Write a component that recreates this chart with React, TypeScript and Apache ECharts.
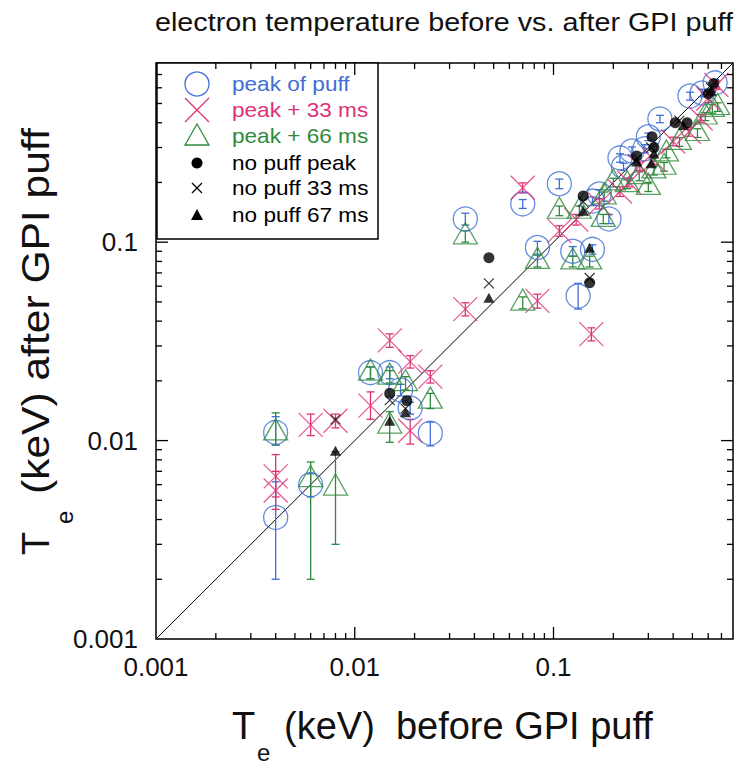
import React, { useEffect, useRef } from "react";
import * as echarts from "echarts";

// ---------- data ----------
// [Te before, Te after, error low, error high]  (keV)
const PEAK_OF_PUFF: number[][] = [
  [0.004, 0.0041, 0.002, 0.0062],
  [0.004, 0.011, 0.0095, 0.0132],
  [0.006, 0.006, 0.0052, 0.0068],
  [0.012, 0.022, 0.0205, 0.0235],
  [0.015, 0.022, 0.0205, 0.0235],
  [0.017, 0.018, 0.0168, 0.0192],
  [0.019, 0.0146, 0.0136, 0.0156],
  [0.024, 0.0109, 0.0094, 0.0124],
  [0.036, 0.131, 0.122, 0.14],
  [0.07, 0.156, 0.148, 0.164],
  [0.083, 0.094, 0.087, 0.101],
  [0.107, 0.197, 0.186, 0.208],
  [0.125, 0.09, 0.085, 0.095],
  [0.133, 0.0535, 0.046, 0.062],
  [0.157, 0.092, 0.087, 0.097],
  [0.157, 0.161, 0.153, 0.169],
  [0.17, 0.175, 0.166, 0.184],
  [0.19, 0.131, 0.124, 0.138],
  [0.216, 0.266, 0.253, 0.279],
  [0.225, 0.24, 0.23, 0.25],
  [0.248, 0.288, 0.274, 0.302],
  [0.288, 0.296, 0.282, 0.31],
  [0.3, 0.34, 0.325, 0.355],
  [0.343, 0.418, 0.4, 0.436],
  [0.486, 0.545, 0.52, 0.57],
  [0.56, 0.565, 0.54, 0.59],
  [0.65, 0.635, 0.61, 0.66],
];

const PEAK_PLUS_33: number[][] = [
  [0.004, 0.0066, 0.0052, 0.0085],
  [0.004, 0.0056, 0.0045, 0.007],
  [0.006, 0.012, 0.0106, 0.0136],
  [0.008, 0.0126, 0.0116, 0.0136],
  [0.012, 0.015, 0.0128, 0.0176],
  [0.015, 0.032, 0.0295, 0.0345],
  [0.019, 0.025, 0.0232, 0.0268],
  [0.019, 0.0112, 0.0096, 0.0128],
  [0.024, 0.021, 0.0195, 0.0225],
  [0.036, 0.046, 0.0425, 0.0495],
  [0.07, 0.188, 0.177, 0.199],
  [0.083, 0.0506, 0.0465, 0.0547],
  [0.107, 0.114, 0.107, 0.121],
  [0.13, 0.13, 0.122, 0.138],
  [0.155, 0.0344, 0.0318, 0.037],
  [0.17, 0.156, 0.147, 0.165],
  [0.216, 0.18, 0.17, 0.19],
  [0.24, 0.2, 0.19, 0.21],
  [0.272, 0.242, 0.23, 0.254],
  [0.32, 0.26, 0.247, 0.273],
  [0.4, 0.322, 0.306, 0.338],
  [0.48, 0.36, 0.342, 0.378],
  [0.55, 0.42, 0.4, 0.44],
  [0.6, 0.53, 0.505, 0.555],
  [0.66, 0.62, 0.59, 0.65],
];

const PEAK_PLUS_66: number[][] = [
  [0.004, 0.011, 0.0095, 0.0138],
  [0.006, 0.0064, 0.002, 0.0078],
  [0.008, 0.0058, 0.003, 0.0088],
  [0.012, 0.022, 0.0205, 0.0235],
  [0.015, 0.021, 0.0195, 0.0225],
  [0.015, 0.0119, 0.0098, 0.014],
  [0.018, 0.0195, 0.018, 0.021],
  [0.024, 0.0159, 0.0145, 0.0173],
  [0.036, 0.107, 0.1, 0.114],
  [0.07, 0.0496, 0.0462, 0.053],
  [0.083, 0.0805, 0.075, 0.086],
  [0.107, 0.144, 0.136, 0.152],
  [0.125, 0.08, 0.075, 0.085],
  [0.135, 0.144, 0.136, 0.152],
  [0.152, 0.08, 0.075, 0.085],
  [0.178, 0.131, 0.124, 0.138],
  [0.18, 0.17, 0.161, 0.179],
  [0.2, 0.2, 0.19, 0.21],
  [0.235, 0.196, 0.186, 0.206],
  [0.27, 0.215, 0.204, 0.226],
  [0.3, 0.19, 0.18, 0.2],
  [0.32, 0.23, 0.218, 0.242],
  [0.36, 0.24, 0.228, 0.252],
  [0.37, 0.28, 0.266, 0.294],
  [0.43, 0.32, 0.304, 0.336],
  [0.53, 0.355, 0.337, 0.373],
  [0.58, 0.43, 0.41, 0.45],
  [0.63, 0.47, 0.447, 0.493],
  [0.67, 0.48, 0.456, 0.504],
];

// [Te before, Te after] (keV)
const NO_PUFF_PEAK: number[][] = [
  [0.015, 0.0173], [0.0183, 0.0159], [0.0473, 0.0835], [0.152, 0.0625],
  [0.141, 0.171], [0.262, 0.272], [0.313, 0.34], [0.32, 0.3],
  [0.41, 0.4], [0.47, 0.4], [0.6, 0.56], [0.64, 0.63],
];
const NO_PUFF_33: number[][] = [
  [0.008, 0.0128], [0.015, 0.016], [0.018, 0.0145], [0.0473, 0.062],
  [0.152, 0.066], [0.141, 0.16], [0.26, 0.26], [0.31, 0.3],
  [0.43, 0.41], [0.62, 0.6],
];
const NO_PUFF_67: number[][] = [
  [0.008, 0.0089], [0.015, 0.0126], [0.018, 0.0139], [0.0473, 0.0525],
  [0.152, 0.0937], [0.141, 0.144], [0.262, 0.255], [0.31, 0.25],
  [0.32, 0.28], [0.45, 0.39], [0.62, 0.58],
];

const AXIS_MIN = 0.001;
const AXIS_MAX = 0.8;
const DIAGONAL: number[][] = [[0.001, 0.001], [0.8, 0.8]];
const TICK_VALUES: number[] = [
  0.002, 0.003, 0.004, 0.005, 0.006, 0.007, 0.008, 0.009,
  0.01, 0.02, 0.03, 0.04, 0.05, 0.06, 0.07, 0.08, 0.09,
  0.1, 0.2, 0.3, 0.4, 0.5, 0.6, 0.7,
];
const DECADE_LABELS: string[] = ["0.001", "0.01", "0.1"];

const SERIES_NAMES = [
  "peak of puff", "peak + 33 ms", "peak + 66 ms",
  "no puff peak", "no puff 33 ms", "no puff 67 ms",
];

// ---------- styles ----------
const BLUE = "#3f6fd6";
const PINK = "#de3276";
const GREEN = "#2f8a3c";
const FONT = "'Liberation Sans', Arial, Helvetica, sans-serif";
const X_SYMBOL = "path://M0 0L10 10M10 0L0 10";
const STRETCH = 1.13;

const isDecade = (v: number) => Math.abs(Math.log10(v) - Math.round(Math.log10(v))) < 1e-6;

function errorBars(name: string, data: number[][], color: string) {
  return {
    type: "custom",
    name: name + " err",
    coordinateSystem: "cartesian2d",
    silent: true,
    z: 2,
    data,
    encode: { x: 0, y: 1 },
    renderItem: (params: any, api: any) => {
      const x = api.value(0);
      const p1 = api.coord([x, api.value(2)]);
      const p2 = api.coord([x, api.value(3)]);
      const w = 4;
      const st = { stroke: color, lineWidth: 1.3 };
      return {
        type: "group",
        children: [
          { type: "line", shape: { x1: p1[0], y1: p1[1], x2: p2[0], y2: p2[1] }, style: st },
          { type: "line", shape: { x1: p1[0] - w, y1: p1[1], x2: p1[0] + w, y2: p1[1] }, style: st },
          { type: "line", shape: { x1: p2[0] - w, y1: p2[1], x2: p2[0] + w, y2: p2[1] }, style: st },
        ],
      };
    },
  };
}

function App() {
  const ref = useRef<HTMLDivElement>(null);
  useEffect(() => {
    document.body.style.margin = "0";
    const chart = echarts.init(ref.current!, null, { renderer: "svg" });
    const gridL = 156, gridT = 63, gridW = 577, gridH = 576;

    const axisCommon = {
      type: "log",
      logBase: 10,
      min: AXIS_MIN,
      max: AXIS_MAX,
      axisLine: { show: false },
      axisTick: { show: false },
      splitLine: { show: false },
      minorTick: { show: false },
      axisLabel: {
        color: "#111",
        fontSize: 26,
        fontFamily: FONT,
        formatter: (v: number) => (isDecade(v) ? DECADE_LABELS[Math.round(Math.log10(v)) + 3] ?? "" : ""),
      },
    };

    const lx = 197, tx = 232, rowY = [84, 110, 136, 163, 188, 215];
    const legendColors = [BLUE, PINK, GREEN, "#000", "#000", "#000"];

    const option: any = {
      animation: false,
      backgroundColor: "#fff",
      grid: {
        left: gridL, top: gridT, width: gridW, height: gridH,
        show: true, borderColor: "#000", borderWidth: 1.5, backgroundColor: "transparent",
      },
      xAxis: { ...axisCommon, axisLabel: { ...axisCommon.axisLabel, margin: 15 } },
      yAxis: { ...axisCommon, axisLabel: { ...axisCommon.axisLabel, margin: 18 } },
      series: [
        {
          type: "line", data: DIAGONAL, symbol: "none", silent: true, z: 1,
          lineStyle: { color: "#000", width: 1 },
        },
        {
          type: "custom", name: "xticks", coordinateSystem: "cartesian2d", silent: true, z: 5,
          data: TICK_VALUES.map((v) => [v, AXIS_MIN]),
          renderItem: (params: any, api: any) => {
            const v = api.value(0);
            const px = api.coord([v, AXIS_MIN])[0];
            const cs = params.coordSys;
            const len = isDecade(v) ? 12 : 6;
            const st = { stroke: "#000", lineWidth: 1.3 };
            return {
              type: "group",
              children: [
                { type: "line", shape: { x1: px, y1: cs.y + cs.height, x2: px, y2: cs.y + cs.height - len }, style: st },
                { type: "line", shape: { x1: px, y1: cs.y, x2: px, y2: cs.y + len }, style: st },
              ],
            };
          },
        },
        {
          type: "custom", name: "yticks", coordinateSystem: "cartesian2d", silent: true, z: 5,
          data: TICK_VALUES.map((v) => [AXIS_MIN, v]),
          renderItem: (params: any, api: any) => {
            const v = api.value(1);
            const py = api.coord([AXIS_MIN, v])[1];
            const cs = params.coordSys;
            const len = isDecade(v) ? 12 : 6;
            const st = { stroke: "#000", lineWidth: 1.3 };
            return {
              type: "group",
              children: [
                { type: "line", shape: { x1: cs.x, y1: py, x2: cs.x + len, y2: py }, style: st },
                { type: "line", shape: { x1: cs.x + cs.width, y1: py, x2: cs.x + cs.width - len, y2: py }, style: st },
              ],
            };
          },
        },
        errorBars(SERIES_NAMES[0], PEAK_OF_PUFF, BLUE),
        {
          type: "scatter", name: SERIES_NAMES[0], z: 3,
          data: PEAK_OF_PUFF.map((d) => [d[0], d[1]]),
          symbol: "circle", symbolSize: 24,
          itemStyle: { color: "rgba(0,0,0,0)", borderColor: BLUE, borderWidth: 1.3 },
        },
        errorBars(SERIES_NAMES[1], PEAK_PLUS_33, PINK),
        {
          type: "scatter", name: SERIES_NAMES[1], z: 3,
          data: PEAK_PLUS_33.map((d) => [d[0], d[1]]),
          symbol: X_SYMBOL, symbolSize: 24,
          itemStyle: { color: "rgba(0,0,0,0)", borderColor: PINK, borderWidth: 1.3 },
        },
        errorBars(SERIES_NAMES[2], PEAK_PLUS_66, GREEN),
        {
          type: "scatter", name: SERIES_NAMES[2], z: 3,
          data: PEAK_PLUS_66.map((d) => [d[0], d[1]]),
          symbol: "triangle", symbolSize: [24, 21], symbolOffset: [0, -3],
          itemStyle: { color: "rgba(0,0,0,0)", borderColor: GREEN, borderWidth: 1.3 },
        },
        {
          type: "scatter", name: SERIES_NAMES[3], z: 4,
          data: NO_PUFF_PEAK, symbol: "circle", symbolSize: 11,
          itemStyle: { color: "#000" },
        },
        {
          type: "scatter", name: SERIES_NAMES[4], z: 4,
          data: NO_PUFF_33, symbol: X_SYMBOL, symbolSize: 10,
          itemStyle: { color: "rgba(0,0,0,0)", borderColor: "#000", borderWidth: 1.2 },
        },
        {
          type: "scatter", name: SERIES_NAMES[5], z: 4,
          data: NO_PUFF_67, symbol: "triangle", symbolSize: [11, 10],
          itemStyle: { color: "#000" },
        },
      ],
      graphic: [
        {
          type: "text", x: 155, y: 23, scaleX: 1.15,
          style: { text: "electron temperature before vs. after GPI puff", font: `25px ${FONT}`, fill: "#111", verticalAlign: "middle" },
        },
        // x-axis title
        { type: "text", x: 232, y: 726, style: { text: "T", font: `38px ${FONT}`, fill: "#111", verticalAlign: "middle" } },
        { type: "text", x: 257, y: 752, style: { text: "e", font: `24px ${FONT}`, fill: "#111", verticalAlign: "middle" } },
        { type: "text", x: 284, y: 726, style: { text: "(keV)  before GPI puff", font: `38px ${FONT}`, fill: "#111", verticalAlign: "middle" } },
        // y-axis title
        { type: "text", x: 36, y: 555, rotation: Math.PI / 2, style: { text: "T", font: `38px ${FONT}`, fill: "#111", verticalAlign: "middle" } },
        { type: "text", x: 64, y: 524, rotation: Math.PI / 2, style: { text: "e", font: `24px ${FONT}`, fill: "#111", verticalAlign: "middle" } },
        { type: "text", x: 36, y: 494, rotation: Math.PI / 2, scaleX: 1.12, style: { text: "(keV) after GPI puff", font: `38px ${FONT}`, fill: "#111", verticalAlign: "middle" } },
        // legend
        {
          type: "group", z: 100,
          children: [
            { type: "rect", shape: { x: 157, y: 63, width: 221, height: 176 }, style: { fill: "#fff", stroke: "#000", lineWidth: 1.5 } },
            { type: "circle", shape: { cx: lx, cy: rowY[0], r: 12 }, style: { fill: "none", stroke: BLUE, lineWidth: 1.3 } },
            { type: "line", shape: { x1: lx - 12, y1: rowY[1] - 12, x2: lx + 12, y2: rowY[1] + 12 }, style: { stroke: PINK, lineWidth: 1.3 } },
            { type: "line", shape: { x1: lx - 12, y1: rowY[1] + 12, x2: lx + 12, y2: rowY[1] - 12 }, style: { stroke: PINK, lineWidth: 1.3 } },
            { type: "polygon", shape: { points: [[lx - 12, rowY[2] + 9], [lx + 12, rowY[2] + 9], [lx, rowY[2] - 12]] }, style: { fill: "none", stroke: GREEN, lineWidth: 1.3 } },
            { type: "circle", shape: { cx: lx, cy: rowY[3], r: 5.5 }, style: { fill: "#000" } },
            { type: "line", shape: { x1: lx - 5, y1: rowY[4] - 5, x2: lx + 5, y2: rowY[4] + 5 }, style: { stroke: "#000", lineWidth: 1.2 } },
            { type: "line", shape: { x1: lx - 5, y1: rowY[4] + 5, x2: lx + 5, y2: rowY[4] - 5 }, style: { stroke: "#000", lineWidth: 1.2 } },
            { type: "polygon", shape: { points: [[lx - 6, rowY[5] + 5], [lx + 6, rowY[5] + 5], [lx, rowY[5] - 6]] }, style: { fill: "#000" } },
            ...SERIES_NAMES.map((n, i) => ({
              type: "text", x: tx, y: rowY[i], scaleX: STRETCH,
              style: { text: n, font: `20px ${FONT}`, fill: legendColors[i], verticalAlign: "middle" },
            })),
          ],
        },
      ],
    };
    chart.setOption(option);
    return () => chart.dispose();
  }, []);
  return <div ref={ref} style={{ width: 748, height: 765 }} />;
}

export default App;
